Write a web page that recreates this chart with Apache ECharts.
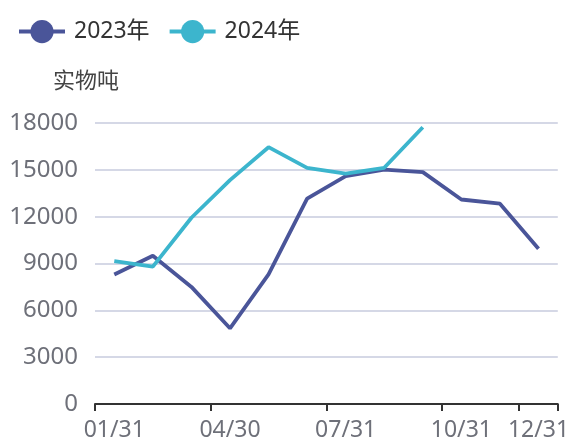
<!DOCTYPE html>
<html><head><meta charset="utf-8">
<script src="https://cdn.jsdelivr.net/npm/echarts@6/dist/echarts.min.js"></script>
<style>html,body{margin:0;padding:0;background:#fff}#c{width:572px;height:442px}</style>
</head><body><div id="c"></div>
<script>
var categories = ['01/31','02/28','03/31','04/30','05/31','06/30','07/31','08/31','09/30','10/31','11/30','12/31'];
var labelIdx = [0,3,6,9,11];
var s2023 = [8300,9500,7500,4850,8300,13150,14600,15020,14850,13100,12830,9950];
var s2024 = [9150,8800,11930,14340,16450,15130,14750,15130,17730];
var yTicks = {min:0, max:18000, interval:3000};
var FONT = '"Noto Sans","Noto Sans CJK SC",sans-serif';
var chart = echarts.init(document.getElementById('c'));
chart.setOption({
  animation:false,
  legend:{left:12, top:15, itemWidth:46, itemHeight:29, itemGap:18,
    lineStyle:{width:4},
    textStyle:{fontSize:23, color:'#333', fontFamily:FONT, padding:[0,0,0,4]}},
  grid:{left:95, right:12, top:123, bottom:37, containLabel:false},
  xAxis:{type:'category', data:categories, boundaryGap:true,
    axisLine:{show:true, lineStyle:{color:'#333', width:2}},
    axisTick:{show:true, interval:function(i){return labelIdx.indexOf(i)>=0;}, length:7, lineStyle:{color:'#333', width:2}},
    axisLabel:{interval:function(i){return labelIdx.indexOf(i)>=0;}, fontSize:23, color:'#6e7079', fontFamily:FONT, margin:15}},
  yAxis:{type:'value', min:yTicks.min, max:yTicks.max, interval:yTicks.interval,
    name:'实物吨', nameGap:30, nameTextStyle:{fontSize:22, color:'#444', fontFamily:FONT, padding:[0,18,0,0]},
    axisLine:{show:false}, axisTick:{show:false},
    axisLabel:{fontSize:24, color:'#6e7079', fontFamily:FONT, margin:17, formatter:function(v){return String(v);}},
    splitLine:{lineStyle:{color:'#d5d8e6', width:2}}},
  series:[
    {name:'2023年', type:'line', data:s2023, showSymbol:false, symbol:'circle',
     itemStyle:{color:'#4a5599'}, lineStyle:{width:3.8, color:'#4a5599'}},
    {name:'2024年', type:'line', data:s2024, showSymbol:false, symbol:'circle',
     itemStyle:{color:'#3cb5cd'}, lineStyle:{width:3.8, color:'#3cb5cd'}}
  ]
});
</script></body></html>
